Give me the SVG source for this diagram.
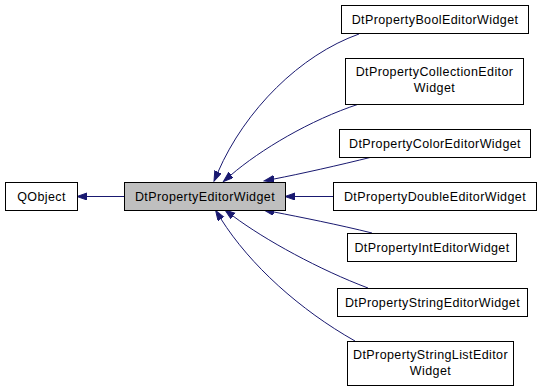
<svg xmlns="http://www.w3.org/2000/svg" width="541" height="392" viewBox="0 0 541 392">
<style>
.box{fill:#ffffff;stroke:#000000;stroke-width:1}
.main{fill:#bfbfbf;stroke:#000000;stroke-width:1}
text{font-family:"Liberation Sans",Arial,sans-serif;font-size:12.5px;letter-spacing:0.4px;fill:#000000;text-anchor:middle}
.edge{fill:none;stroke:#191970;stroke-width:1;marker-end:url(#arr)}
</style>
<defs>
<marker id="arr" markerUnits="userSpaceOnUse" markerWidth="11" markerHeight="8" refX="0" refY="3.5" orient="auto" viewBox="0 0 11 8">
<path d="M0,0 L10,3.5 L0,7 z" fill="#191970" stroke="#191970" stroke-width="1"/>
</marker>
</defs>
<rect width="541" height="392" fill="#ffffff"/>
<g id="connectors">
<path class="edge" d="M124,196.5 L87,196.5"/>
<path class="edge" d="M333,196.5 L295,196.5"/>
<path class="edge" d="M359,34 C300,55 245,110 218,172"/>
<path class="edge" d="M359,104 C310,120 260,150 231,175"/>
<path class="edge" d="M372,157 C340,165 300,174 274,179"/>
<path class="edge" d="M372,233 C340,225 300,217 274,212"/>
<path class="edge" d="M368,288 C320,270 265,240 233,216"/>
<path class="edge" d="M355,341 C300,310 250,265 221,219"/>
</g>
<g id="node-qobject">
<rect class="box" x="5.5" y="182.5" width="72" height="28"/>
<text x="41.5" y="200.5">QObject</text>
</g>
<g id="node-editor">
<rect class="main" x="124.5" y="182.5" width="161" height="28"/>
<text x="205" y="200.5">DtPropertyEditorWidget</text>
</g>
<g id="node-bool">
<rect class="box" x="341.5" y="5.5" width="187" height="28"/>
<text x="435" y="23.5">DtPropertyBoolEditorWidget</text>
</g>
<g id="node-collection">
<rect class="box" x="345.5" y="58.5" width="178" height="46"/>
<text x="434.5" y="76">DtPropertyCollectionEditor</text>
<text x="434.5" y="92">Widget</text>
</g>
<g id="node-color">
<rect class="box" x="339.5" y="129.5" width="191" height="28"/>
<text x="435" y="147.5">DtPropertyColorEditorWidget</text>
</g>
<g id="node-double">
<rect class="box" x="333.5" y="182.5" width="203" height="28"/>
<text x="435" y="200.5">DtPropertyDoubleEditorWidget</text>
</g>
<g id="node-int">
<rect class="box" x="347.5" y="233.5" width="169" height="28"/>
<text x="432" y="251.5">DtPropertyIntEditorWidget</text>
</g>
<g id="node-string">
<rect class="box" x="337.5" y="288.5" width="190" height="28"/>
<text x="432.5" y="306.5">DtPropertyStringEditorWidget</text>
</g>
<g id="node-stringlist">
<rect class="box" x="347.5" y="341.5" width="166" height="44"/>
<text x="430.5" y="359">DtPropertyStringListEditor</text>
<text x="430.5" y="375">Widget</text>
</g>
</svg>
